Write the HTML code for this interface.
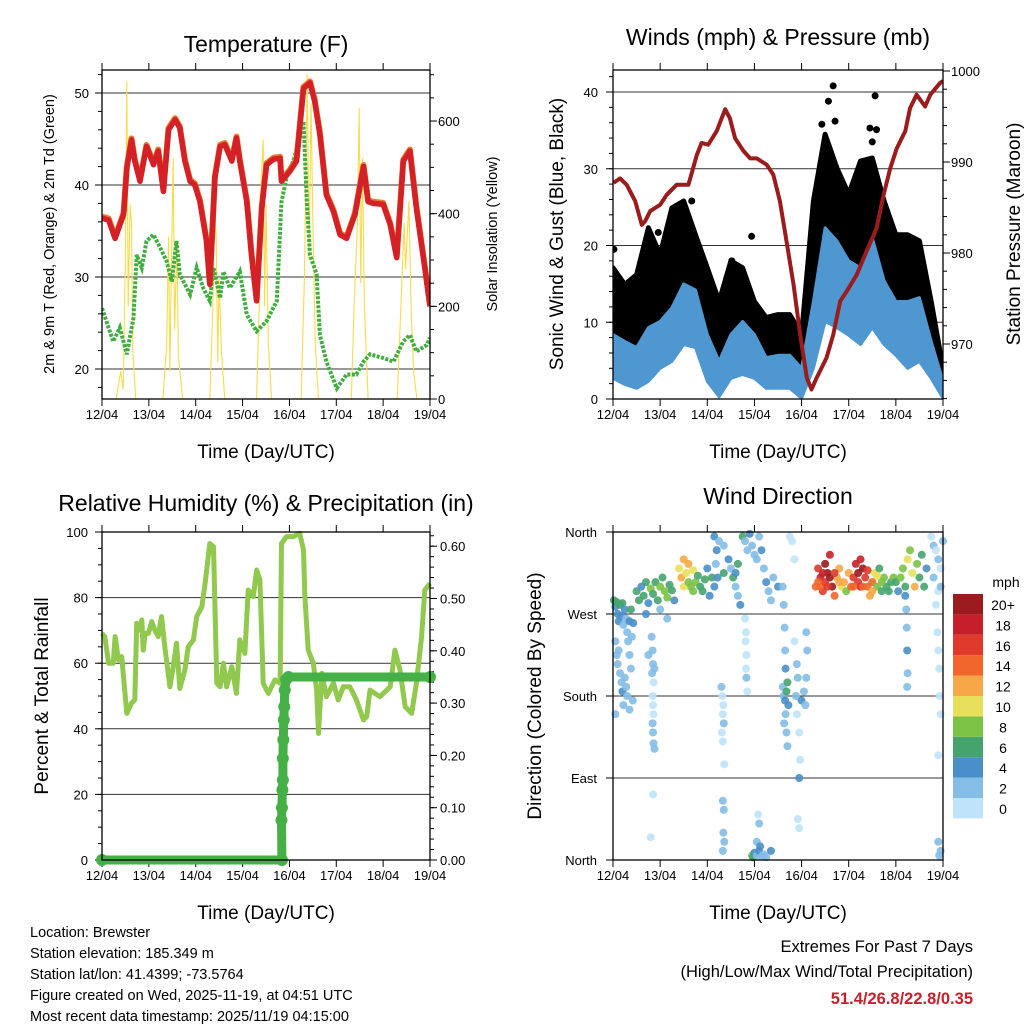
<!DOCTYPE html>
<html><head><meta charset="utf-8"><style>
html,body{margin:0;padding:0;background:#fff;}
svg{display:block;font-family:"Liberation Sans",sans-serif;}
</style></head><body>
<svg id="root" width="1024" height="1024" viewBox="0 0 1024 1024" xmlns="http://www.w3.org/2000/svg">
<defs>
<clipPath id="c1"><rect x="102" y="70" width="328" height="329"/></clipPath>
<clipPath id="c2"><rect x="613" y="70" width="330" height="329"/></clipPath>
<clipPath id="c3"><rect x="96" y="526" width="340" height="340"/></clipPath>
<clipPath id="c4"><rect x="609" y="528" width="338" height="336"/></clipPath>
</defs>
<rect x="0" y="0" width="1024" height="1024" fill="#fff"/>
<text x="266" y="52" font-size="23" text-anchor="middle">Temperature (F)</text>
<text x="778" y="45" font-size="23" text-anchor="middle">Winds (mph) &amp; Pressure (mb)</text>
<text x="266" y="511" font-size="23" text-anchor="middle">Relative Humidity (%) &amp; Precipitation (in)</text>
<text x="778" y="504" font-size="23" text-anchor="middle">Wind Direction</text>
<text transform="translate(54,234) rotate(-90)" font-size="14.5" text-anchor="middle">2m &amp; 9m T (Red, Orange) &amp; 2m Td (Green)</text>
<text transform="translate(497,234) rotate(-90)" font-size="14.5" text-anchor="middle">Solar Insolation (Yellow)</text>
<text transform="translate(563,234) rotate(-90)" font-size="19" text-anchor="middle">Sonic Wind &amp; Gust (Blue, Black)</text>
<text transform="translate(1020,234) rotate(-90)" font-size="19" text-anchor="middle">Station Pressure (Maroon)</text>
<text transform="translate(48,696) rotate(-90)" font-size="19" text-anchor="middle">Percent &amp; Total Rainfall</text>
<text transform="translate(541,696) rotate(-90)" font-size="19" text-anchor="middle">Direction (Colored By Speed)</text>
<text x="266" y="458" font-size="19" text-anchor="middle">Time (Day/UTC)</text>
<text x="778" y="458" font-size="19" text-anchor="middle">Time (Day/UTC)</text>
<text x="266" y="919" font-size="19" text-anchor="middle">Time (Day/UTC)</text>
<text x="778" y="919" font-size="19" text-anchor="middle">Time (Day/UTC)</text>
<g font-size="14.5">
<text x="30" y="937">Location: Brewster</text>
<text x="30" y="958">Station elevation: 185.349 m</text>
<text x="30" y="979">Station lat/lon: 41.4399; -73.5764</text>
<text x="30" y="1000">Figure created on Wed, 2025-11-19, at 04:51 UTC</text>
<text x="30" y="1021">Most recent data timestamp: 2025/11/19 04:15:00</text>
</g>
<g font-size="16.5" text-anchor="end">
<text x="973" y="952">Extremes For Past 7 Days</text>
<text x="973" y="977">(High/Low/Max Wind/Total Precipitation)</text>
<text x="973" y="1004" font-weight="bold" fill="#c8202a">51.4/26.8/22.8/0.35</text>
</g>
<text x="1006" y="587" font-size="14" text-anchor="middle">mph</text>
</svg>
<script>
// ---------- DATA ----------
const dayLabels = ["12/04","13/04","14/04","15/04","16/04","17/04","18/04","19/04"];
const tempT = [0,0.14,0.28,0.46,0.53,0.63,0.70,0.81,0.95,1.10,1.20,1.31,1.42,1.56,1.66,1.77,1.88,1.98,2.09,2.23,2.30,2.41,2.52,2.62,2.77,2.87,2.94,3.09,3.19,3.30,3.41,3.51,3.66,3.80,3.83,4.01,4.15,4.30,4.44,4.54,4.65,4.79,4.94,5.08,5.22,5.40,5.58,5.68,5.79,6.00,6.15,6.29,6.43,6.57,6.71,6.89,7.0];
const tempV = [36.4,36.2,34.2,36.8,41.8,44.9,42.6,40.4,44.2,42.2,43.7,39.3,46.0,47.1,46.2,42.6,40.4,40.0,38.2,33.9,29.2,40.8,44.2,44.4,42.6,45.1,42.6,38.2,32.4,27.4,37.5,42.2,42.8,42.9,40.4,41.5,42.6,50.5,51.1,49.1,45.5,38.9,37.1,34.6,34.2,36.8,42.0,38.2,38.0,37.9,35.7,32.1,42.6,43.7,37.5,31.0,26.8];
const dewT = [0,0.24,0.38,0.53,0.67,0.74,0.85,0.95,1.10,1.24,1.38,1.49,1.59,1.66,1.88,2.02,2.16,2.30,2.38,2.52,2.59,2.73,2.94,3.09,3.30,3.51,3.73,3.83,3.94,4.08,4.22,4.30,4.37,4.44,4.58,4.65,4.79,5.01,5.22,5.43,5.58,5.72,6.00,6.22,6.43,6.57,6.71,6.93,7.0];
const dewV = [26.6,23.0,24.5,21.6,25.5,32.4,31.0,33.9,34.6,33.2,31.7,29.5,33.9,30.3,28.1,31.0,28.8,27.4,31.0,27.7,30.6,28.8,30.6,25.9,24.1,25.2,27.4,38.2,40.8,42.6,45.1,46.9,38.2,32.4,30.3,23.7,20.8,17.9,19.4,19.4,20.8,21.6,21.2,20.8,23.0,23.7,21.9,22.6,23.4];
const solarT = [0,0.3,0.4,0.45,0.5,0.53,0.56,0.6,0.63,0.66,0.72,1.3,1.38,1.42,1.45,1.48,1.52,1.55,1.6,1.63,1.72,2.3,2.36,2.4,2.44,2.47,2.5,2.55,2.62,3.3,3.36,3.4,3.44,3.47,3.5,3.55,3.62,4.25,4.32,4.38,4.42,4.46,4.5,4.55,4.62,5.32,5.38,5.45,5.49,5.52,5.56,5.6,5.68,6.3,6.38,6.45,6.48,6.55,6.6,6.65,6.72,7];
const solarV = [0,0,60,20,300,686,200,420,380,100,0,0,120,350,60,280,520,150,340,90,0,0,180,420,340,80,260,100,0,0,220,480,560,200,420,120,0,0,260,700,300,640,380,120,0,0,200,380,628,250,520,200,0,0,200,380,280,427,180,60,0,0];
const windT = [0,0.25,0.5,0.75,1,1.25,1.5,1.75,2,2.25,2.5,2.75,3,3.25,3.5,3.75,4,4.25,4.5,4.75,5,5.25,5.5,5.75,6,6.25,6.5,6.75,7];
const windHigh = [8.4,7.5,6.7,9.3,10.1,11.9,15.0,14.2,8.4,4.9,8.4,10.1,8.4,5.4,5.7,5.7,4.0,12.7,22.3,20.6,18.0,17.1,21.0,15.4,12.7,12.7,13.2,7.5,2.3];
const windLow = [2.7,1.9,1.4,2.3,4.0,4.9,7.1,6.7,2.3,0.3,2.7,3.2,2.7,1.4,1.4,1.4,0.1,4.0,10.1,9.3,8.3,7.1,9.3,7.1,5.7,4.0,4.9,2.7,0.1];
const gustHigh = [17.1,14.9,16.2,22.3,18.8,24.9,25.8,21.4,17.1,12.7,18.0,17.1,12.7,10.6,11.0,11.0,8.4,25.8,34.5,30.1,26.7,31.0,31.4,25.8,21.4,21.4,20.6,12.7,4.0];
const gustOutT = [4.67,4.57,5.56,4.71,5.45,5.59,4.43,1.67,2.94,0.96,2.52,0.02,6.37,4.5,5.5];
const gustOutV = [40.8,38.8,39.5,36.2,35.3,35.1,35.8,25.8,21.2,21.7,18.0,19.5,20.8,33.0,33.5];
const presT = [0.01,0.15,0.29,0.47,0.61,0.68,0.79,1.00,1.14,1.35,1.60,1.78,1.88,2.02,2.20,2.38,2.48,2.59,2.77,2.91,3.05,3.26,3.40,3.54,3.68,3.83,3.97,4.11,4.21,4.32,4.53,4.67,4.82,4.96,5.17,5.38,5.59,5.74,5.88,6.02,6.20,6.30,6.44,6.62,6.73,6.94,7.0];
const presV = [987.7,988.2,987.5,985.7,983.1,983.5,984.6,985.3,986.4,987.5,987.5,990.8,992.1,991.9,993.4,995.8,994.8,992.6,991.2,990.4,990.4,989.7,988.6,985.7,981.3,976.5,971.0,966.3,965.0,966.3,968.5,971.0,974.7,975.8,977.6,980.2,982.7,986.4,989.3,991.5,993.4,995.9,997.4,996.1,997.4,998.7,998.9];
const rhT = [0,0.06,0.14,0.24,0.28,0.35,0.42,0.53,0.63,0.70,0.74,0.81,0.85,0.88,0.92,0.99,1.06,1.13,1.20,1.27,1.34,1.45,1.52,1.59,1.66,1.77,1.84,1.95,2.02,2.13,2.20,2.30,2.38,2.45,2.52,2.59,2.66,2.77,2.87,2.94,3.05,3.12,3.23,3.30,3.37,3.44,3.55,3.69,3.80,3.83,3.94,4.08,4.22,4.30,4.33,4.40,4.51,4.58,4.62,4.69,4.79,4.94,5.04,5.15,5.29,5.43,5.58,5.65,5.72,5.93,6.15,6.25,6.36,6.47,6.61,6.71,6.82,6.89,7.0];
const rhV = [69.1,68.1,60.0,60.0,68.1,61.0,62.0,44.7,47.8,48.8,72.2,70.1,73.2,64.0,69.1,69.1,72.7,70.1,68.1,74.2,65.0,52.8,58.9,66.1,52.3,57.9,65.0,67.1,74.2,77.2,84.3,96.5,95.5,53.9,52.8,60.0,52.8,58.9,50.8,67.1,63.0,82.3,80.3,88.4,85.4,53.9,50.8,54.9,53.9,96.5,98.6,98.6,99.6,94.5,80.3,64.0,60.0,51.8,38.6,56.9,49.8,53.9,48.8,52.8,52.8,48.8,42.7,43.7,51.8,49.8,52.8,64.0,57.9,46.7,44.7,53.9,68.1,82.3,84.3];
const precipT = [0,3.84,3.83,3.84,3.85,3.86,3.86,3.87,3.88,3.89,3.90,3.93,3.98,7.0];
const precipV = [0,0,0.076,0.10,0.134,0.153,0.194,0.23,0.268,0.293,0.325,0.345,0.35,0.35];
const dirPts = [
[0.02,285,6],[0.05,278,5],[0.08,283,7],[0.1,270,4],[0.12,262,4],[0.15,280,6],[0.18,268,4],[0.2,282,7],[0.22,258,3],[0.25,275,5],[0.28,265,3],[0.3,250,3],[0.32,240,3],[0.35,262,4],[0.38,275,6],[0.4,245,3],[0.43,260,4],
[0.05,240,3],[0.08,225,3],[0.1,215,2],[0.12,230,3],[0.15,205,3],[0.18,195,3],[0.2,185,4],[0.22,170,2],[0.25,200,2],[0.28,190,3],[0.3,180,3],[0.35,225,3],[0.38,210,3],[0.05,160,2],[0.35,165,2],[0.42,175,2],
[0.5,295,6],[0.55,285,7],[0.6,300,5],[0.65,290,6],[0.7,305,7],[0.75,282,5],[0.8,298,8],[0.85,292,7],[0.9,305,6],[0.95,285,6],[1.0,300,8],[1.05,310,7],[1.1,295,9],[1.15,288,8],[1.2,302,7],[1.25,296,6],[1.3,285,5],[1.0,275,3],[0.7,270,4],[1.15,265,3],
[0.82,245,2],[0.84,230,2],[0.85,215,3],[0.83,205,2],[0.86,195,1],[0.84,180,1],[0.85,170,1],[0.86,160,1],[0.84,150,2],[0.85,140,2],[0.86,128,2],[0.88,122,3],[0.85,72,1],[0.8,25,1],[0.75,225,3],[0.88,210,3],
[1.4,320,10],[1.45,310,12],[1.5,330,13],[1.55,315,11],[1.6,325,12],[1.65,300,9],[1.7,318,10],[1.75,305,8],[1.8,312,7],[1.85,300,7],[1.9,295,6],[1.95,308,6],[2.0,320,5],[2.05,290,4],[1.5,300,10],[1.6,305,9],[1.7,295,8],[2.1,310,6],
[2.15,355,4],[2.2,340,4],[2.18,325,3],[2.22,310,5],[2.15,300,4],[2.25,350,2],[2.35,345,2],[2.45,330,5],[2.5,320,3],[2.55,310,6],[2.6,300,3],[2.65,290,3],[2.7,280,4],[2.75,355,6],[2.8,350,3],[2.85,340,3],[2.9,358,4],[2.95,345,2],[3.0,335,2],[3.05,330,2],[3.1,355,3],[3.15,340,4],[3.2,320,3],[3.25,305,4],[3.3,295,3],[3.35,285,3],[3.4,310,2],[3.5,300,4],[2.6,315,5],[2.65,325,6],[2.35,315,6],
[2.3,190,2],[2.32,180,1],[2.34,170,1],[2.33,160,1],[2.35,150,2],[2.31,140,1],[2.33,130,1],[2.36,105,1],[2.33,65,2],[2.35,55,2],[2.34,30,2],[2.36,20,2],[2.33,10,2],
[2.8,265,1],[2.82,250,1],[2.81,240,1],[2.83,225,1],[2.82,210,1],[2.83,200,3],[2.85,185,1],
[2.95,5,9],[2.97,3,7],[3.0,8,4],[3.05,5,3],[3.1,10,4],[3.15,4,3],[3.2,6,3],[3.25,3,2],[3.35,10,4],[3.05,20,2],[3.1,40,2],[3.08,50,1],[3.12,15,4],
[3.6,300,3],[3.62,280,2],[3.64,255,2],[3.65,230,2],[3.66,210,4],[3.6,190,3],[3.62,180,3],[3.65,175,4],[3.68,185,6],[3.7,195,7],[3.72,170,4],[3.66,160,3],[3.63,150,2],[3.68,140,2],[3.7,125,2],[3.85,240,1],[3.9,215,2],[3.92,200,3],[3.88,180,2],[3.9,160,1],[3.95,140,1],[3.97,110,1],[4.0,175,4],[4.05,185,3],[4.08,170,3],[4.1,200,2],[4.12,230,2],[4.1,250,2],[3.95,90,5],[3.92,45,1],[3.95,35,1],[3.75,355,1],[3.8,350,1],[3.85,330,1],
[4.3,300,14],[4.35,320,16],[4.4,310,18],[4.45,295,16],[4.5,325,20],[4.55,315,20],[4.6,335,18],[4.65,300,20],[4.7,290,15],[4.75,310,13],[4.8,320,12],[4.85,300,10],[4.9,305,12],[4.95,295,9],[5.0,315,12],[5.05,300,14],[5.1,310,16],[5.15,325,18],[5.2,315,20],[5.25,300,18],[5.3,320,20],[5.35,310,16],[5.4,300,15],[5.45,290,12],[5.5,305,14],[5.55,315,10],[5.6,300,8],[5.65,320,6],[5.7,295,7],[5.75,310,8],[5.8,300,6],[5.85,295,7],[5.9,305,6],[5.95,310,8],[4.4,300,14],[4.5,305,17],[5.2,305,16],[5.3,300,14],[4.6,310,20],[5.25,330,19],
[4.35,305,15],[4.45,315,19],[4.55,300,17],[4.7,315,16],[4.8,305,13],[5.1,300,15],[5.4,318,17],[5.5,295,13],[5.6,312,11],[5.7,305,9],
[6.0,305,7],[6.05,295,5],[6.1,310,8],[6.15,320,9],[6.2,300,7],[6.25,330,10],[6.3,340,8],[6.35,315,10],[6.4,300,12],[6.45,325,9],[6.5,310,7],[6.55,335,6],[6.6,300,7],[6.65,320,5],[6.2,290,4],
[6.22,275,3],[6.23,255,3],[6.24,230,4],[6.25,205,3],[6.24,190,3],
[6.75,355,1],[6.8,345,2],[6.85,340,1],[6.9,330,2],[6.95,320,1],[6.8,310,2],[6.9,295,1],[6.95,300,3],[7.0,350,2],[6.85,280,1],[6.88,250,1],[6.9,230,1],[6.92,210,1],[6.93,180,1],[6.95,160,1],[6.9,115,1],[6.9,20,2],[6.95,10,3],[6.92,5,2]
];
const speedBins = ["0","2","4","6","8","10","12","14","16","18","20+"];
const speedColors = ["#bfe3f8","#84bde6","#4a8fc9","#45a46e","#7bc245","#e8e05a","#f7a747","#f0662b","#df3a2c","#c5202a","#9b1b1e"];

// ---------- HELPERS ----------
const NS = "http://www.w3.org/2000/svg";
const root = document.getElementById('root');
function mk(tag, attrs, parent) {
  const e = document.createElementNS(NS, tag);
  for (const k in attrs) e.setAttribute(k, attrs[k]);
  (parent || root).appendChild(e);
  return e;
}
function grp(name, clip) {
  const g = mk('g', clip ? {'clip-path': 'url(#' + clip + ')'} : {});
  
  
  return g;
}
function pathFrom(ts, vs, xf, yf) {
  return ts.map((t, i) => (i ? 'L' : 'M') + xf(t).toFixed(1) + ',' + yf(vs[i]).toFixed(1)).join('');
}

const x1 = d => 102 + d * 328 / 7;
const x2 = d => 613 + d * 330 / 7;
const yT = t => 369 - (t - 20) * 9.2;
const ySol = s => 399 - s * 0.4633;
const yW = w => 399 - w * 7.675;
const yP = p => 344 - (p - 970) * 9.1;
const yRH = r => 860 - r * 3.28;
const yPr = p => 860 - p * 523;
const yDir = d => 860 - d * 328 / 360;

// ---------- AXES ----------
function panelAxes(name, px, py, pw, ph, xf) {
  const g = grp(name + '-axes');
  for (let i = 0; i < dayLabels.length; i++) {
    const x = xf(i);
    const t = mk('line', {x1: x, y1: py + ph, x2: x, y2: py + ph + 7, stroke: '#000', 'stroke-width': 1}, g);
    
    
    const t2 = mk('line', {x1: x, y1: py, x2: x, y2: py - 7, stroke: '#000', 'stroke-width': 1}, g);
    
    
    const lb = mk('text', {x: x, y: py + ph + 20, 'font-size': 13, 'text-anchor': 'middle'}, g);
    lb.textContent = dayLabels[i];
    
    
  }
  return g;
}
function yAxis(g, name, vals, minors, yf, xEdge, dir, labelX, anchor, fmt, grid, gx1, gx2) {
  minors.forEach(v => {
    const t = mk('line', {x1: xEdge, y1: yf(v), x2: xEdge + dir * 4, y2: yf(v), stroke: '#000', 'stroke-width': 1}, g);
    
    
  });
  vals.forEach(v => {
    if (grid) {
      const gl = mk('line', {x1: gx1, y1: yf(v), x2: gx2, y2: yf(v), stroke: '#333', 'stroke-width': 1}, g);
      
      
    }
    const t = mk('line', {x1: xEdge, y1: yf(v), x2: xEdge + dir * 7, y2: yf(v), stroke: '#000', 'stroke-width': 1}, g);
    
    
    const lb = mk('text', {x: labelX, y: yf(v) + 5, 'font-size': 13, 'text-anchor': anchor}, g);
    lb.textContent = fmt(v);
    
    
  });
}
function range(a, b, s) { const r = []; for (let v = a; v <= b + 1e-9; v += s) r.push(+v.toFixed(4)); return r; }

let g1 = panelAxes('temperature', 102, 70, 328, 329, x1);
yAxis(g1, 'temperature-y', [20,30,40,50], range(18,52,2), yT, 102, -1, 89, 'end', v => v, true, 102, 430);
yAxis(g1, 'solar-y', [0,200,400,600], range(0,700,50), ySol, 430, 1, 438, 'start', v => v, false);
let g2 = panelAxes('winds', 613, 70, 330, 329, x2);
yAxis(g2, 'wind-y', [0,10,20,30,40], range(0,42,2), yW, 613, -1, 598, 'end', v => v, true, 613, 943);
yAxis(g2, 'pressure-y', [970,980,990,1000], range(964,1000,2), yP, 943, 1, 951, 'start', v => v, false);
let g3 = panelAxes('humidity', 102, 532, 328, 328, x1);
yAxis(g3, 'humidity-y', [0,20,40,60,80,100], range(0,100,5), yRH, 102, -1, 88, 'end', v => v, true, 102, 430);
yAxis(g3, 'precip-y', [0,0.1,0.2,0.3,0.4,0.5,0.6], range(0,0.62,0.02), yPr, 430, 1, 440, 'start', v => v.toFixed(2), false);
let g4 = panelAxes('direction', 613, 532, 330, 328, x2);
const dirNames = {0:'North',90:'East',180:'South',270:'West',360:'North'};
yAxis(g4, 'direction-y', [0,90,180,270,360], [], yDir, 613, -1, 597, 'end', v => dirNames[v], true, 613, 943);

// ---------- PANEL 1 ----------
const s1 = grp('temperature-series', 'c1');
const sol = mk('path', {d: pathFrom(solarT, solarV, x1, ySol), fill: 'none', stroke: '#f7dc4a', 'stroke-width': 1.1}, s1);


const dew = mk('path', {d: pathFrom(dewT, dewV, x1, yT), fill: 'none', stroke: '#3fae3f', 'stroke-width': 4, 'stroke-dasharray': '3 1.5'}, s1);


const t9 = mk('path', {d: pathFrom(tempT, tempV, x1, t => yT(t) - 1.5), fill: 'none', stroke: '#f07a2a', 'stroke-width': 6, 'stroke-linejoin': 'round'}, s1);


const t2 = mk('path', {d: pathFrom(tempT, tempV, x1, yT), fill: 'none', stroke: '#d42027', 'stroke-width': 5.5, 'stroke-linejoin': 'round'}, s1);



// ---------- PANEL 2 ----------
const s2 = grp('winds-series', 'c2');
function bandPath(ts, lo, hi, xf, yf) {
  let d = ts.map((t, i) => (i ? 'L' : 'M') + xf(t).toFixed(1) + ',' + yf(hi[i]).toFixed(1)).join('');
  for (let i = ts.length - 1; i >= 0; i--) d += 'L' + xf(ts[i]).toFixed(1) + ',' + yf(lo[i]).toFixed(1);
  return d + 'Z';
}
const gust = mk('path', {d: bandPath(windT, windHigh, gustHigh, x2, yW), fill: '#000', stroke: '#000', 'stroke-width': 5, 'stroke-linejoin': 'round'}, s2);


gustOutT.forEach((t, i) => {
  const c = mk('circle', {cx: x2(t), cy: yW(gustOutV[i]), r: 3.5, fill: '#000'}, s2);
  
  
});
const wind = mk('path', {d: bandPath(windT, windLow, windHigh, x2, yW), fill: '#4f97d0', stroke: '#4f97d0', 'stroke-width': 3, 'stroke-linejoin': 'round'}, s2);


const pres = mk('path', {d: pathFrom(presT, presV, x2, yP), fill: 'none', stroke: '#9b1c1c', 'stroke-width': 4, 'stroke-linejoin': 'round'}, s2);



// ---------- PANEL 3 ----------
const s3 = grp('humidity-series', 'c3');
const rh = mk('path', {d: pathFrom(rhT, rhV, x1, yRH), fill: 'none', stroke: '#90c94e', 'stroke-width': 5, 'stroke-linejoin': 'round'}, s3);


const pr = mk('path', {d: pathFrom(precipT, precipV, x1, yPr), fill: 'none', stroke: '#45b045', 'stroke-width': 9, 'stroke-linejoin': 'round', 'stroke-linecap': 'round'}, s3);


precipT.forEach((t, i) => {
  const c = mk('circle', {cx: x1(t), cy: yPr(precipV[i]), r: 6, fill: '#45b045'}, s3);
  
  
});

// ---------- PANEL 4 ----------
const s4 = grp('direction-series', 'c4');
function speedColor(s) { return speedColors[Math.min(10, Math.max(0, Math.floor(s / 2)))]; }
dirPts.forEach(p => {
  const c = mk('circle', {cx: x2(p[0]), cy: yDir(p[1]), r: 4, fill: speedColor(p[2]), 'fill-opacity': 0.9}, s4);
  
  
});

// Frames
[[102,70,328,329,'temperature'],[613,70,330,329,'winds'],[102,532,328,328,'humidity'],[613,532,330,328,'direction']].forEach(f => {
  const r = mk('rect', {x: f[0], y: f[1], width: f[2], height: f[3], fill: 'none', stroke: '#000', 'stroke-width': 1.3});
  
  
});

// Colorbar
const cb = grp('speed-colorbar');
speedBins.forEach((lab, i) => {
  const y = 594 + (10 - i) * 20.4;
  const r = mk('rect', {x: 953, y: y, width: 30, height: 20.4, fill: speedColors[i]}, cb);
  
  
  const t = mk('text', {x: 1003, y: y + 16, 'font-size': 14, 'text-anchor': 'middle'}, cb);
  t.textContent = lab;
  
  
});
</script>
</body></html>
